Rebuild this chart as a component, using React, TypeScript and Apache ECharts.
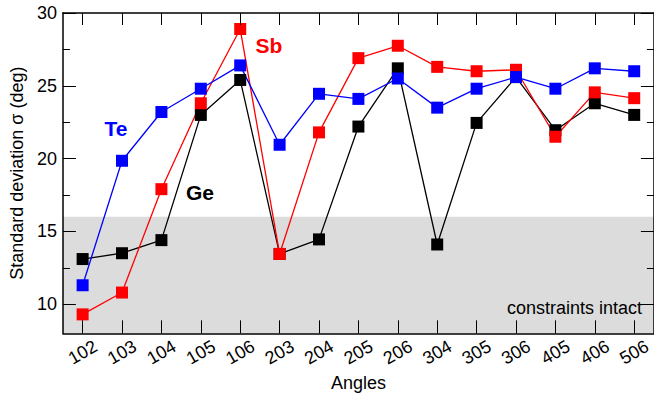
import React, { useEffect, useRef } from "react";
import * as echarts from "echarts";

const categories = ["102", "103", "104", "105", "106", "203", "204", "205", "206", "304", "305", "306", "405", "406", "506"];
const teValues = [11.3, 19.85, 23.2, 24.8, 26.4, 20.95, 24.45, 24.1, 25.5, 23.5, 24.8, 25.6, 24.8, 26.2, 26.0];
const sbValues = [9.3, 10.8, 17.9, 23.8, 28.9, 13.45, 21.8, 26.9, 27.75, 26.3, 26.0, 26.1, 21.5, 24.55, 24.15];
const geValues = [13.1, 13.5, 14.4, 23.0, 25.4, 13.45, 14.45, 22.2, 26.2, 14.1, 22.45, 25.6, 21.95, 23.8, 23.0];
const yMajorTicks = [10, 15, 20, 25, 30];
const yMinorTicks = [12.5, 17.5, 22.5, 27.5];
const shadedRange = [8, 16];
const yMin = 8;
const yMax = 30;

const FONT = "'Liberation Sans', Arial, Helvetica, sans-serif";

export default function App() {
  const ref = useRef<HTMLDivElement>(null);
  useEffect(() => {
    if (!ref.current) return;
    const chart = echarts.init(ref.current, null, { renderer: "svg" });
    const axisLine = { show: true, lineStyle: { color: "#000", width: 1.5 } };
    const yBase = (pos: string, ticks: number[], len: number, showLine: boolean, showLabel: boolean) => ({
      type: "value",
      position: pos,
      min: yMin,
      max: yMax,
      z: 10,
      splitLine: { show: false },
      axisLine: showLine ? axisLine : { show: false },
      axisTick: { show: true, inside: true, length: len, customValues: ticks, lineStyle: { color: "#000", width: 1 } },
      axisLabel: showLabel
        ? { show: true, customValues: yMajorTicks, color: "#000", fontSize: 18, fontFamily: FONT, margin: 6 }
        : { show: false },
    });
    const mkSeries = (name: string, data: number[], color: string, extra: any = {}) => ({
      name,
      type: "line",
      data,
      symbol: "rect",
      symbolSize: 12,
      lineStyle: { color, width: 1.3 },
      itemStyle: { color },
      ...extra,
    });
    chart.setOption({
      animation: false,
      backgroundColor: "#fff",
      grid: { left: 60, top: 13, right: -6, bottom: 61, containLabel: false },
      xAxis: [
        {
          type: "category",
          data: categories,
          position: "bottom",
          boundaryGap: true,
          z: 10,
          axisLine,
          axisTick: { show: true, inside: true, length: 13, alignWithLabel: true, lineStyle: { color: "#000", width: 1 } },
          axisLabel: {
            rotate: 30,
            align: "center",
            verticalAlign: "middle",
            margin: 19,
            color: "#000",
            fontSize: 18,
            fontFamily: FONT,
            interval: 0,
          },
          name: "Angles",
          nameLocation: "middle",
          nameGap: 35,
          nameTextStyle: { color: "#000", fontSize: 18, fontFamily: FONT },
        },
        {
          type: "category",
          data: categories,
          position: "top",
          boundaryGap: true,
          z: 10,
          axisLine,
          axisTick: { show: true, inside: true, length: 12, alignWithLabel: true, lineStyle: { color: "#000", width: 1 } },
          axisLabel: { show: false },
        },
      ],
      yAxis: [
        {
          ...yBase("left", yMajorTicks, 13, true, true),
          name: "Standard deviation σ (deg)",
          nameLocation: "middle",
          nameGap: 33,
          nameTextStyle: { color: "#000", fontSize: 18, fontFamily: FONT },
        },
        yBase("left", yMinorTicks, 7, false, false),
        yBase("right", yMajorTicks, 13, true, false),
        yBase("right", yMinorTicks, 7, false, false),
      ],
      series: [
        mkSeries("Ge", geValues, "#000000", {
          markArea: {
            silent: true,
            itemStyle: { color: "#dcdcdc" },
            data: [[{ yAxis: shadedRange[0] }, { yAxis: shadedRange[1] }]],
          },
        }),
        mkSeries("Sb", sbValues, "#ff0000"),
        mkSeries("Te", teValues, "#0000ff"),
      ],
      graphic: [
        {
          type: "text",
          x: 116,
          y: 128,
          style: { text: "Te", fill: "#0000ff", font: `bold 21px ${FONT}`, align: "center", verticalAlign: "middle" },
          z: 20,
        },
        {
          type: "text",
          x: 269,
          y: 45,
          style: { text: "Sb", fill: "#ff0000", font: `bold 21px ${FONT}`, align: "center", verticalAlign: "middle" },
          z: 20,
        },
        {
          type: "text",
          x: 200,
          y: 192,
          style: { text: "Ge", fill: "#000000", font: `bold 21px ${FONT}`, align: "center", verticalAlign: "middle" },
          z: 20,
        },
        {
          type: "text",
          x: 642,
          y: 308,
          style: { text: "constraints intact", fill: "#000000", font: `18px ${FONT}`, align: "right", verticalAlign: "middle" },
          z: 20,
        },
      ],
    });
    return () => chart.dispose();
  }, []);
  return <div ref={ref} style={{ position: "absolute", left: 0, top: 0, width: 654, height: 397 }} />;
}
